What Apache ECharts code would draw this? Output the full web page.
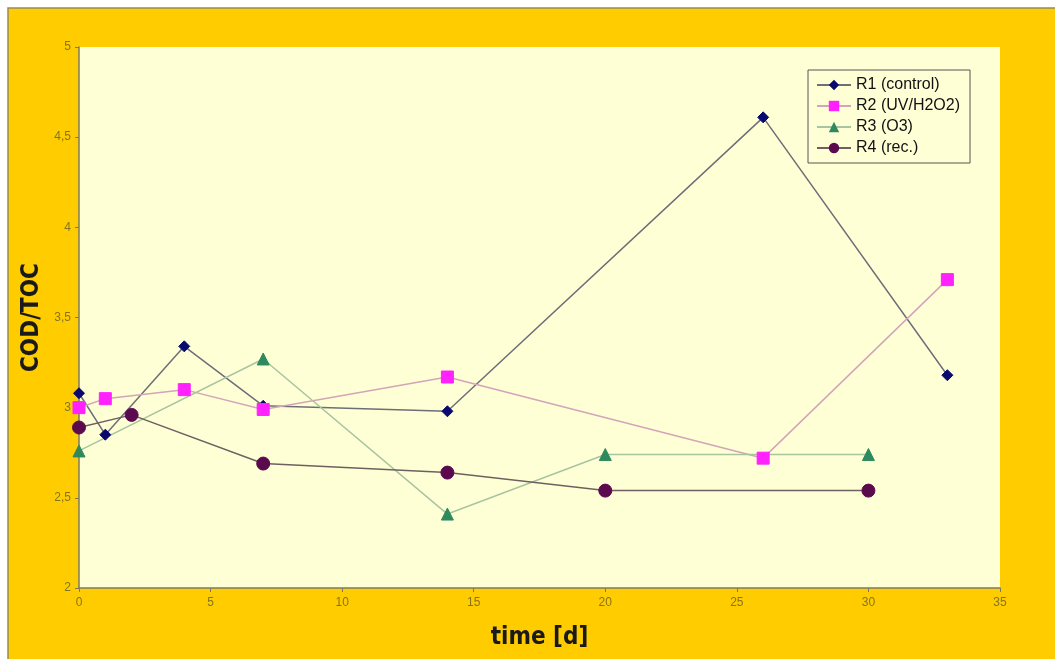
<!DOCTYPE html>
<html>
<head>
<meta charset="utf-8">
<script src="https://cdn.jsdelivr.net/npm/echarts@6/dist/echarts.min.js"></script>
<style>
html,body{margin:0;padding:0;background:#fff;}
#c{width:1055px;height:659px;}
</style>
</head>
<body>
<div id="c"></div>
<script>
// Data
var r1Days = [0, 1, 4, 7, 14, 26, 33];
var r1Vals = [3.08, 2.85, 3.34, 3.01, 2.98, 4.61, 3.18];
var r2Days = [0, 1, 4, 7, 14, 26, 33];
var r2Vals = [3.00, 3.05, 3.10, 2.99, 3.17, 2.72, 3.71];
var r3Days = [0, 7, 14, 20, 30];
var r3Vals = [2.76, 3.27, 2.41, 2.74, 2.74];
var r4Days = [0, 2, 7, 14, 20, 30];
var r4Vals = [2.89, 2.96, 2.69, 2.64, 2.54, 2.54];
var seriesNames = ['R1 (control)', 'R2 (UV/H2O2)', 'R3 (O3)', 'R4 (rec.)'];

function pairs(xs, ys){ return xs.map(function(x,i){ return [x, ys[i]]; }); }

var chart = echarts.init(document.getElementById('c'), null, {renderer:'canvas'});
var tickColor = '#85741c';
var axisLineColor = '#7d7a60';
var titleFont = '"DejaVu Sans Condensed", "Liberation Sans Narrow", "Liberation Sans", Arial';

function mk(name, data, lineColor, symColor, symbol, size){
  return {
    name: name, type: 'line', data: data,
    symbol: symbol, symbolSize: size,
    lineStyle: {color: lineColor, width: 1.5},
    itemStyle: {color: symColor, borderColor: symColor},
    emphasis: {disabled: true},
    animation: false
  };
}

chart.setOption({
  backgroundColor: '#ffffff',
  animation: false,
  graphic: [{
    type: 'rect', z: -10, silent: true,
    shape: {x: 8, y: 8, width: 1060, height: 660},
    style: {fill: '#FFCC00', stroke: '#9a8a4a', lineWidth: 1.5}
  }],
  grid: {
    left: 79, top: 47, right: 55, bottom: 71,
    show: true, backgroundColor: '#FFFFD6', borderWidth: 0
  },
  legend: {
    orient: 'vertical', left: 808, top: 70,
    backgroundColor: '#FFFFD6', borderColor: '#555555', borderWidth: 1,
    padding: [7, 10, 7, 8], itemGap: 5, itemWidth: 34, itemHeight: 13,
    textStyle: {fontFamily: 'Liberation Sans, Arial, sans-serif', fontSize: 16, color: '#111'},
    data: seriesNames
  },
  xAxis: {
    type: 'value', min: 0, max: 35, interval: 5,
    name: 'time [d]', nameLocation: 'middle', nameGap: 38,
    nameTextStyle: {fontFamily: titleFont, fontWeight: 'bold', fontSize: 24, color: '#1a1a1a'},
    axisLine: {show: true, lineStyle: {color: axisLineColor, width: 1.5}},
    axisTick: {show: true, length: 4, lineStyle: {color: axisLineColor}},
    axisLabel: {color: tickColor, fontFamily: 'Liberation Sans, Arial', fontSize: 12, margin: 9},
    splitLine: {show: false}
  },
  yAxis: {
    type: 'value', min: 2, max: 5, interval: 0.5,
    name: 'COD/TOC', nameLocation: 'middle', nameGap: 32, nameRotate: 90,
    nameTextStyle: {fontFamily: titleFont, fontWeight: 'bold', fontSize: 24, color: '#1a1a1a'},
    axisLine: {show: true, lineStyle: {color: axisLineColor, width: 1.5}},
    axisTick: {show: true, length: 4, lineStyle: {color: axisLineColor}},
    axisLabel: {color: tickColor, fontFamily: 'Liberation Sans, Arial', fontSize: 12, margin: 8,
      formatter: function(v){ return String(v).replace('.', ','); }},
    splitLine: {show: false}
  },
  series: [
    mk(seriesNames[0], pairs(r1Days, r1Vals), '#6e6e78', '#0a0a6e', 'diamond', 11),
    mk(seriesNames[1], pairs(r2Days, r2Vals), '#d4a4b8', '#ff22ff', 'rect', 12),
    mk(seriesNames[2], pairs(r3Days, r3Vals), '#a8c4a0', '#2e8a5e', 'triangle', 12),
    mk(seriesNames[3], pairs(r4Days, r4Vals), '#6e6062', '#5c0a4e', 'circle', 13)
  ]
});
</script>
</body>
</html>
